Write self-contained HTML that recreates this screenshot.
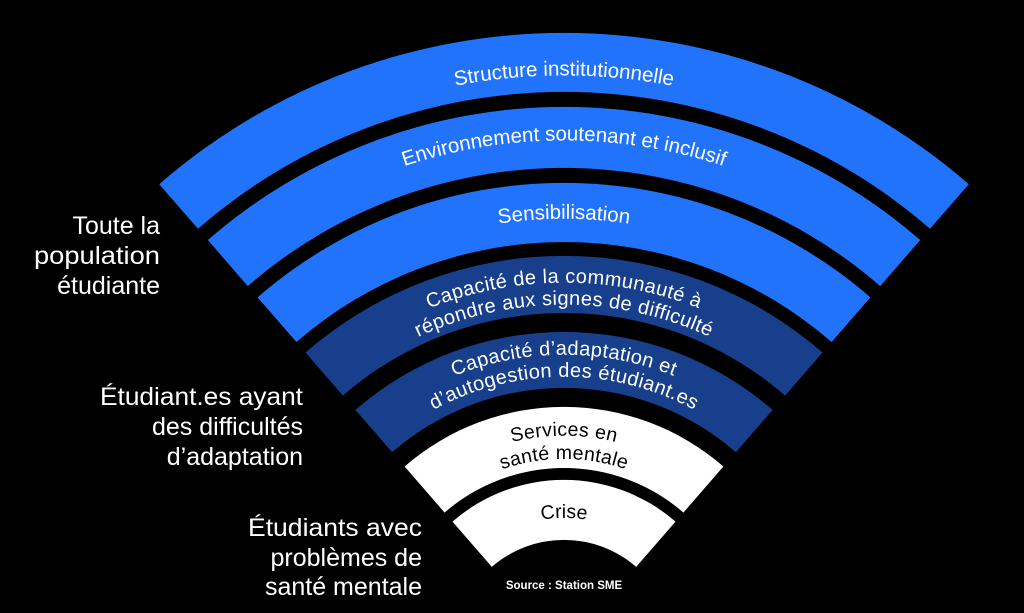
<!DOCTYPE html>
<html><head><meta charset="utf-8"><style>
html,body{margin:0;padding:0;background:#000;}
svg{display:block;}
text{font-family:"Liberation Sans",sans-serif;}
</style></head><body>
<svg width="1024" height="613" viewBox="0 0 1024 613" xmlns="http://www.w3.org/2000/svg">
<rect width="1024" height="613" fill="#000"/>
<defs>
<path id="t1" d="M24.4,453.7 A574 574 0 0 1 1103.6,453.7"/>
<path id="t2" d="M85.5,475.9 A509 509 0 0 1 1042.5,475.9"/>
<path id="t3" d="M158.9,502.6 A431 431 0 0 1 969.1,502.6"/>
<path id="t4a" d="M219,524.5 A367 367 0 0 1 909,524.5"/>
<path id="t4b" d="M239.7,532 A345 345 0 0 1 888.3,532"/>
<path id="t5a" d="M286.7,549.1 A295 295 0 0 1 841.3,549.1"/>
<path id="t5b" d="M307.4,556.6 A273 273 0 0 1 820.6,556.6"/>
<path id="t6a" d="M362.8,576.8 A214 214 0 0 1 765.2,576.8"/>
<path id="t6b" d="M384.5,584.7 A191 191 0 0 1 743.5,584.7"/>
<path id="t7" d="M439.9,604.9 A132 132 0 0 1 688.1,604.9"/>
</defs>
<path fill="#2173fb" d="M159.2,184.2 A617 617 0 0 1 968.8,184.2 L930,228.7 A558 558 0 0 0 198,228.7 Z"/>
<path fill="#2173fb" d="M207.8,240 A543 543 0 0 1 920.2,240 L880.2,286.1 A482 482 0 0 0 247.8,286.1 Z"/>
<path fill="#2173fb" d="M257.6,297.4 A467 467 0 0 1 870.4,297.4 L831.6,342 A408 408 0 0 0 296.4,342 Z"/>
<path fill="#173f8b" d="M305.5,352.5 A394 394 0 0 1 822.5,352.5 L785.1,395.6 A337 337 0 0 0 342.9,395.6 Z"/>
<path fill="#173f8b" d="M355.4,409.9 A318 318 0 0 1 772.6,409.9 L735.9,452.2 A262 262 0 0 0 392.1,452.2 Z"/>
<path fill="#ffffff" d="M404.6,466.5 A243 243 0 0 1 723.4,466.5 L683.4,512.6 A182 182 0 0 0 444.6,512.6 Z"/>
<path fill="#ffffff" d="M452.5,521.6 A170 170 0 0 1 675.5,521.6 L636.2,566.9 A110 110 0 0 0 491.8,566.9 Z"/>

<g fill="#fff" font-size="20.5" text-anchor="middle">
<text><textPath href="#t1" startOffset="50%">Structure institutionnelle</textPath></text>
<text><textPath href="#t2" startOffset="50%">Environnement soutenant et inclusif</textPath></text>
<text><textPath href="#t3" startOffset="50%">Sensibilisation</textPath></text>
<text font-size="20" letter-spacing="0.4"><textPath href="#t4a" startOffset="50%">Capacité de la communauté à</textPath></text>
<text font-size="20" letter-spacing="0.4"><textPath href="#t4b" startOffset="50%">répondre aux signes de difficulté</textPath></text>
<text font-size="20" letter-spacing="0.4"><textPath href="#t5a" startOffset="50%">Capacité d’adaptation et</textPath></text>
<text font-size="20" letter-spacing="0.4"><textPath href="#t5b" startOffset="50%">d’autogestion des étudiant.es</textPath></text>
</g>
<g fill="#000" font-size="19.5" text-anchor="middle">
<text letter-spacing="0.3"><textPath href="#t6a" startOffset="50%">Services en</textPath></text>
<text letter-spacing="0.3"><textPath href="#t6b" startOffset="50%">santé mentale</textPath></text>
<text><textPath href="#t7" startOffset="50%">Crise</textPath></text>
</g>

<g fill="#fff" font-size="25" text-anchor="end">
<text x="160" y="234">Toute la</text>
<text x="160" y="264" textLength="126" lengthAdjust="spacingAndGlyphs">population</text>
<text x="160" y="294">étudiante</text>
<text x="303" y="405" textLength="203" lengthAdjust="spacingAndGlyphs">Étudiant.es ayant</text>
<text x="303" y="435">des difficultés</text>
<text x="303" y="465">d’adaptation</text>
<text x="422" y="536" textLength="174" lengthAdjust="spacingAndGlyphs">Étudiants avec</text>
<text x="422" y="566">problèmes de</text>
<text x="422" y="595">santé mentale</text>
</g>
<text x="564" y="589" fill="#fff" font-size="11.5" font-weight="bold" text-anchor="middle">Source : Station SME</text>
</svg>
</body></html>
